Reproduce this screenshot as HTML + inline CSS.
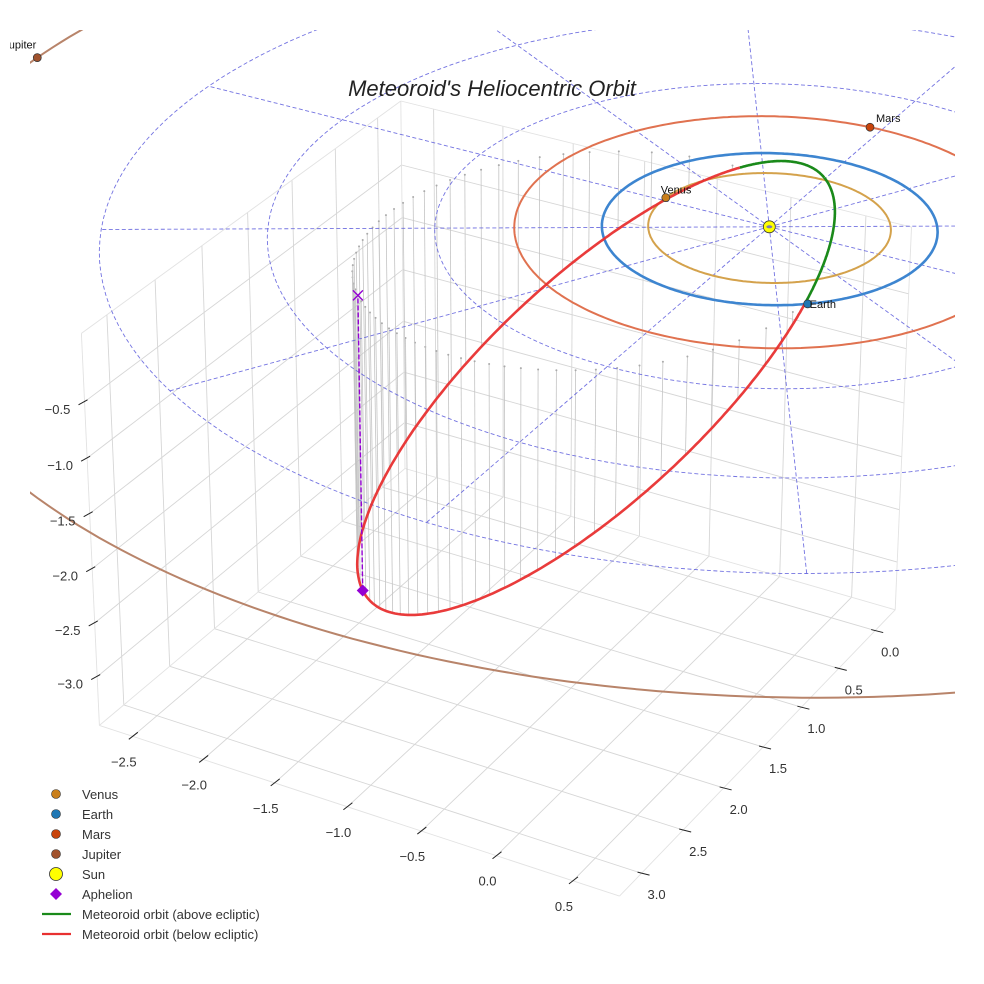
<!DOCTYPE html>
<html><head><meta charset="utf-8"><title>Meteoroid's Heliocentric Orbit</title>
<style>
html,body{margin:0;padding:0;background:#fff;}
svg{display:block;font-family:"Liberation Sans",sans-serif;}
</style></head>
<body>
<svg id="chart" xmlns="http://www.w3.org/2000/svg" width="984" height="984" viewBox="0 0 984 984">
  <defs>
    <clipPath id="plotClip"><rect x="30" y="30" width="925" height="940"/></clipPath>
    <clipPath id="jupLabelClip" clipPathUnits="userSpaceOnUse"><rect x="10" y="0" width="200" height="60"/></clipPath>
  </defs>
  <rect x="0" y="0" width="984" height="984" fill="#fff"/>
  <g id="gridLayer"></g>
  <g id="dropLayer" clip-path="url(#plotClip)"></g>
  <g id="eclLayer" clip-path="url(#plotClip)"></g>
  <g id="orbitLayer" clip-path="url(#plotClip)"></g>
  <g id="metLayer"></g>
  <g id="markLayer"></g>
  <g id="jupLabelLayer" clip-path="url(#jupLabelClip)"></g>
  <g id="tickLayer"></g>
  <text x="492" y="96" text-anchor="middle" font-size="22" font-style="italic" fill="#222">Meteoroid's Heliocentric Orbit</text>
  <g id="legend" font-size="13" fill="#333">
    <g><circle cx="56" cy="794" r="4.5" fill="#c97f1b" stroke="#333" stroke-width="0.6"/><text x="82" y="799">Venus</text></g>
    <g><circle cx="56" cy="814" r="4.5" fill="#1f77b4" stroke="#333" stroke-width="0.6"/><text x="82" y="819">Earth</text></g>
    <g><circle cx="56" cy="834" r="4.5" fill="#c8440c" stroke="#333" stroke-width="0.6"/><text x="82" y="839">Mars</text></g>
    <g><circle cx="56" cy="854" r="4.5" fill="#a0522d" stroke="#333" stroke-width="0.6"/><text x="82" y="859">Jupiter</text></g>
    <g><circle cx="56" cy="874" r="6.5" fill="#ffff00" stroke="#333" stroke-width="0.8"/><text x="82" y="879">Sun</text></g>
    <g><polygon points="56,888 62,894 56,900 50,894" fill="#9400d3"/><text x="82" y="899">Aphelion</text></g>
    <g><line x1="42" y1="914" x2="71" y2="914" stroke="#1a8a1a" stroke-width="2.2"/><text x="82" y="919">Meteoroid orbit (above ecliptic)</text></g>
    <g><line x1="42" y1="934" x2="71" y2="934" stroke="#e83030" stroke-width="2.2"/><text x="82" y="939">Meteoroid orbit (below ecliptic)</text></g>
  </g>
</svg>
<script>
// ---- data ----
const planetNames = ['Venus', 'Earth', 'Mars', 'Jupiter'];
const planetRadiusAU = [0.723, 1.0, 1.524, 5.203];
const planetAngleDeg = [183, 50, -93, 178];
const gridRadiiAU = [1, 2, 3, 4];
const radialAnglesDeg = [0, 30, 60, 90, 120, 150, 180, 210, 240, 270, 300, 330];
const xTicks = [-2.5, -2.0, -1.5, -1.0, -0.5, 0.0, 0.5];
const yTicks = [0.0, 0.5, 1.0, 1.5, 2.0, 2.5, 3.0];
const zTicks = [-3.0, -2.5, -2.0, -1.5, -1.0, -0.5];
const meteoroidPerihelionAU = [0.5];
const meteoroidAphelionAU = [3.73];
const meteoroidPerihelionDir = [0.45, -0.525, 0.72];
const meteoroidNodeDir = [0.643, 0.766, 0.0];
const axisRangeX = [-2.74, 0.8];
const axisRangeY = [-0.28, 3.26];
const axisRangeZ = [-3.46, 0.1];

// ---- styles ----
const planetColors = ['#c97f1b', '#1f77b4', '#c8440c', '#a0522d'];
const orbitColors = ['#d4a24c', '#3d85d0', '#e07250', '#b8846a'];
const labelDx = [-5, 2, 6, -34];
const labelDy = [-4, 4, -5, -9];

// ---- camera calibration (data coords -> pixels) ----
const calib = [
  [-2.74, 3.26, -3.46, 100, 727],
  [0.8, 3.26, -3.46, 619, 895],
  [0.8, -0.28, -3.46, 895, 612],
  [-2.74, -0.28, -3.46, 405, 466],
  [-2.74, 3.26, 0.1, 81, 333],
  [-2.74, -0.28, 0.1, 400, 103],
  [0.8, -0.28, 0.1, 910, 228],
  [0, 0, 0, 772, 224]
];
function solveLin(A, b) {
  const n = b.length;
  for (let i = 0; i < n; i++) {
    let p = i;
    for (let k = i + 1; k < n; k++) if (Math.abs(A[k][i]) > Math.abs(A[p][i])) p = k;
    [A[i], A[p]] = [A[p], A[i]]; [b[i], b[p]] = [b[p], b[i]];
    for (let k = i + 1; k < n; k++) {
      const f = A[k][i] / A[i][i];
      for (let j = i; j < n; j++) A[k][j] -= f * A[i][j];
      b[k] -= f * b[i];
    }
  }
  const x = new Array(n).fill(0);
  for (let i = n - 1; i >= 0; i--) {
    let s = b[i];
    for (let j = i + 1; j < n; j++) s -= A[i][j] * x[j];
    x[i] = s / A[i][i];
  }
  return x;
}
const rows = [], rhs = [];
calib.forEach(([X, Y, Z, u, v]) => {
  rows.push([X, Y, Z, 1, 0, 0, 0, 0, -u * X, -u * Y, -u * Z]); rhs.push(u);
  rows.push([0, 0, 0, 0, X, Y, Z, 1, -v * X, -v * Y, -v * Z]); rhs.push(v);
});
const N = [], r = [];
for (let i = 0; i < 11; i++) {
  N.push(new Array(11).fill(0)); r.push(0);
  for (let k = 0; k < rows.length; k++) {
    r[i] += rows[k][i] * rhs[k];
    for (let j = 0; j < 11; j++) N[i][j] += rows[k][i] * rows[k][j];
  }
}
const M = solveLin(N, r);
function proj(X, Y, Z) {
  const w = M[8] * X + M[9] * Y + M[10] * Z + 1;
  return [(M[0] * X + M[1] * Y + M[2] * Z + M[3]) / w, (M[4] * X + M[5] * Y + M[6] * Z + M[7]) / w, w];
}
function pathOf(pts) {
  let d = '', pen = false;
  pts.forEach(p => {
    const q = proj(p[0], p[1], p[2]);
    if (q[2] <= 0.05) { pen = false; return; }
    d += (pen ? 'L' : 'M') + q[0].toFixed(1) + ' ' + q[1].toFixed(1);
    pen = true;
  });
  return d;
}
const NS = 'http://www.w3.org/2000/svg';
function mk(parent, tag, attrs) {
  const e = document.createElementNS(NS, tag);
  for (const k in attrs) e.setAttribute(k, attrs[k]);
  parent.appendChild(e);
  return e;
}
const gridLayer = document.getElementById('gridLayer');
const dropLayer = document.getElementById('dropLayer');
const eclLayer = document.getElementById('eclLayer');
const orbitLayer = document.getElementById('orbitLayer');
const metLayer = document.getElementById('metLayer');
const markLayer = document.getElementById('markLayer');
const jupLabelLayer = document.getElementById('jupLabelLayer');
const tickLayer = document.getElementById('tickLayer');
const [x0, x1] = axisRangeX, [y0, y1] = axisRangeY, [z0, z1] = axisRangeZ;

// ---- panes grid ----
function gline(a, b, name, col) {
  const e = mk(gridLayer, 'path', { d: pathOf([a, b]), stroke: col || '#d6d6d6', 'stroke-width': 0.9, fill: 'none' });
  
  
}
xTicks.forEach(t => {
  gline([t, y0, z0], [t, y1, z0], 'floor-grid-x');
  gline([t, y0, z0], [t, y0, z1], 'back-wall-grid-x');
});
yTicks.forEach(t => {
  gline([x0, t, z0], [x1, t, z0], 'floor-grid-y');
  gline([x0, t, z0], [x0, t, z1], 'left-wall-grid-y');
});
zTicks.forEach(t => {
  gline([x0, y0, t], [x1, y0, t], 'back-wall-grid-z');
  gline([x0, y0, t], [x0, y1, t], 'left-wall-grid-z');
});
[[[x0, y1, z0], [x1, y1, z0]], [[x1, y1, z0], [x1, y0, z0]], [[x1, y0, z0], [x1, y0, z1]], [[x1, y0, z1], [x0, y0, z1]],
 [[x0, y0, z1], [x0, y1, z1]], [[x0, y1, z1], [x0, y1, z0]], [[x0, y0, z0], [x0, y0, z1]], [[x0, y0, z0], [x1, y0, z0]], [[x0, y0, z0], [x0, y1, z0]]]
  .forEach(s => gline(s[0], s[1], 'pane-edge', '#e2e2e2'));

// ---- ticks ----
function tick(p, a, b, lx, ly, label, name) {
  const q = proj(p[0], p[1], p[2]);
  const t = mk(tickLayer, 'line', { x1: q[0] + a[0], y1: q[1] + a[1], x2: q[0] + b[0], y2: q[1] + b[1], stroke: '#222', 'stroke-width': 1 });
  
  
  const tx = mk(tickLayer, 'text', { x: q[0] + lx, y: q[1] + ly + 5, 'text-anchor': 'middle', 'font-size': 13, fill: '#333' });
  tx.textContent = label;
  
  
}
const fmt = v => (v < 0 ? '\u2212' : '') + Math.abs(v).toFixed(1);
xTicks.forEach(t => tick([t, y1, z0], [-4, 3], [5, -4], -9, 25, fmt(t), 'x-axis'));
yTicks.forEach(t => tick([x1, t, z0], [-4, -1], [8, 2], 15, 21, fmt(t), 'y-axis'));
zTicks.forEach(t => tick([x0, y1, t], [-6, 3], [3, -2], -27, 7, fmt(t), 'z-axis'));

// ---- ecliptic grid ----
const rad = Math.PI / 180;
gridRadiiAU.forEach(R => {
  const pts = [];
  for (let a = 0; a <= 360; a += 2) pts.push([R * Math.cos(a * rad), R * Math.sin(a * rad), 0]);
  const e = mk(eclLayer, 'path', { d: pathOf(pts), stroke: '#5b5bdc', 'stroke-width': 0.9, 'stroke-dasharray': '4 2.5', fill: 'none', opacity: 0.85 });
  
  
});
const rMax = gridRadiiAU[gridRadiiAU.length - 1];
radialAnglesDeg.forEach(a => {
  const e = mk(eclLayer, 'path', { d: pathOf([[0, 0, 0], [rMax * Math.cos(a * rad), rMax * Math.sin(a * rad), 0]]), stroke: '#5b5bdc', 'stroke-width': 0.9, 'stroke-dasharray': '4 2.5', fill: 'none', opacity: 0.85 });
  
  
});

// ---- planet orbits ----
planetNames.forEach((nm, i) => {
  const R = planetRadiusAU[i], pts = [];
  for (let a = 0; a <= 360; a += 1) pts.push([R * Math.cos(a * rad), R * Math.sin(a * rad), 0]);
  const e = mk(orbitLayer, 'path', { d: pathOf(pts), stroke: orbitColors[i], 'stroke-width': i === 1 ? 2.6 : 2, fill: 'none' });
  
  
});

// ---- meteoroid orbit ----
const q = meteoroidPerihelionAU[0], Q = meteoroidAphelionAU[0];
const sa = (q + Q) / 2, ecc = (Q - q) / (Q + q), pp = sa * (1 - ecc * ecc);
const nrm = v => { const l = Math.hypot(v[0], v[1], v[2]); return v.map(c => c / l); };
const Ph = nrm(meteoroidPerihelionDir);
const nd = meteoroidNodeDir, dp = nd[0] * Ph[0] + nd[1] * Ph[1] + nd[2] * Ph[2];
const Wh = nrm([nd[0] - dp * Ph[0], nd[1] - dp * Ph[1], nd[2] - dp * Ph[2]]);
function orbPt(nu) {
  const rr = pp / (1 + ecc * Math.cos(nu));
  return [0, 1, 2].map(k => rr * (Math.cos(nu) * Ph[k] + Math.sin(nu) * Wh[k]));
}
const nDrop = 64;
for (let i = 0; i < nDrop; i++) {
  const Mn = 2 * Math.PI * i / nDrop;
  let E = Mn;
  for (let k = 0; k < 30; k++) E -= (E - ecc * Math.sin(E) - Mn) / (1 - ecc * Math.cos(E));
  const nu = 2 * Math.atan2(Math.sqrt(1 + ecc) * Math.sin(E / 2), Math.sqrt(1 - ecc) * Math.cos(E / 2));
  const p = orbPt(nu);
  if (p[2] >= 0) continue;
  const e = mk(dropLayer, 'path', { d: pathOf([p, [p[0], p[1], 0]]), stroke: '#c4c4c4', 'stroke-width': 0.8, fill: 'none' });
  
  
  const t = proj(p[0], p[1], 0);
  const c = mk(dropLayer, 'circle', { cx: t[0], cy: t[1], r: 1, fill: '#aaa' });
  
  
}
let segs = [], cur = null;
for (let d = 0; d <= 360; d += 0.5) {
  const p = orbPt(d * rad), above = p[2] >= 0;
  if (!cur || cur.above !== above) { if (cur) cur.pts.push(p); cur = { above, pts: cur ? [cur.pts[cur.pts.length - 1]] : [] }; segs.push(cur); }
  cur.pts.push(p);
}
segs.filter(s => !s.above).forEach(s => {
  const e = mk(metLayer, 'path', { d: pathOf(s.pts), stroke: '#e83030', 'stroke-width': 2.6, fill: 'none', opacity: 0.95 });
  
  
});
segs.filter(s => s.above).forEach(s => {
  const e = mk(metLayer, 'path', { d: pathOf(s.pts), stroke: '#1a8a1a', 'stroke-width': 2.6, fill: 'none' });
  
  
});

// ---- aphelion ----
const A = orbPt(Math.PI);
const dl = mk(markLayer, 'path', { d: pathOf([A, [A[0], A[1], 0]]), stroke: '#9400d3', 'stroke-width': 1.4, 'stroke-dasharray': '5 2', fill: 'none' });


const aTop = proj(A[0], A[1], 0), aPt = proj(A[0], A[1], A[2]);
const xm = mk(markLayer, 'path', { d: `M${aTop[0] - 5} ${aTop[1] - 5}L${aTop[0] + 5} ${aTop[1] + 5}M${aTop[0] - 5} ${aTop[1] + 5}L${aTop[0] + 5} ${aTop[1] - 5}`, stroke: '#9400d3', 'stroke-width': 1.4 });


const dm = mk(markLayer, 'polygon', { points: `${aPt[0]},${aPt[1] - 6} ${aPt[0] + 6},${aPt[1]} ${aPt[0]},${aPt[1] + 6} ${aPt[0] - 6},${aPt[1]}`, fill: '#9400d3' });



// ---- planets ----
planetNames.forEach((nm, i) => {
  const R = planetRadiusAU[i], a = planetAngleDeg[i] * rad;
  const s = proj(R * Math.cos(a), R * Math.sin(a), 0);
  const c = mk(markLayer, 'circle', { cx: s[0], cy: s[1], r: 4, fill: planetColors[i], stroke: '#333', 'stroke-width': 0.7 });
  
  
  const t = mk(nm === 'Jupiter' ? jupLabelLayer : markLayer, 'text', { x: s[0] + labelDx[i], y: s[1] + labelDy[i], 'font-size': 11, fill: '#111' });
  t.textContent = nm;
  
  
});
const sp = proj(0, 0, 0);
const sun = mk(markLayer, 'circle', { cx: sp[0], cy: sp[1], r: 6, fill: '#ffff00', stroke: '#333', 'stroke-width': 0.8 });


const sunCore = mk(markLayer, 'ellipse', { cx: sp[0], cy: sp[1], rx: 3, ry: 1.5, fill: '#5b5bdc', opacity: 0.8 });


</script>
</body></html>
